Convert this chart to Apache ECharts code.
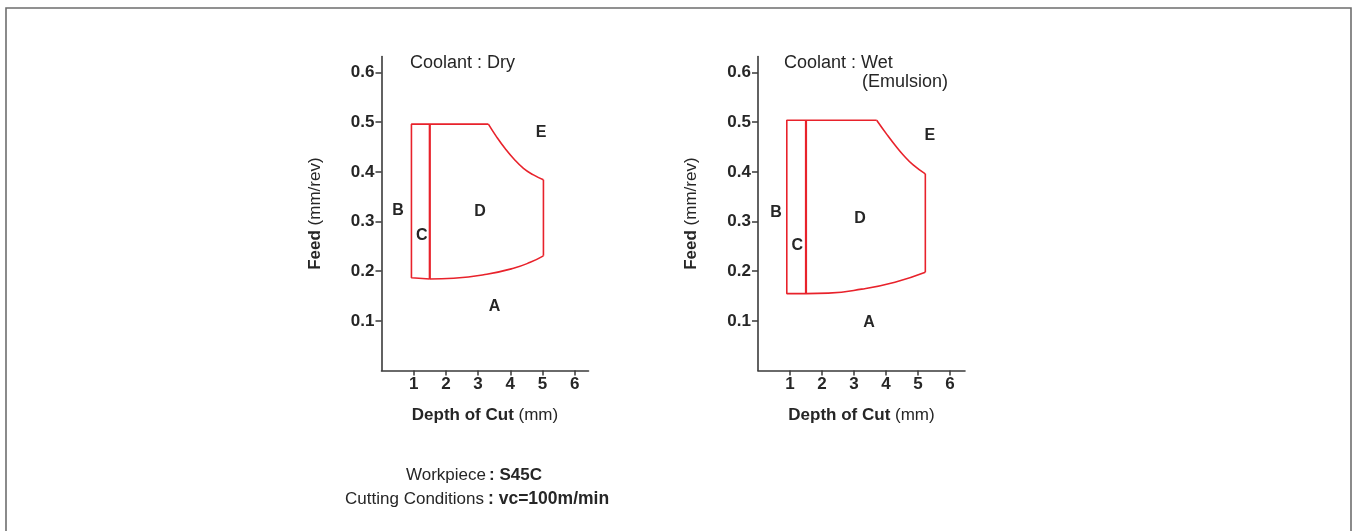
<!DOCTYPE html>
<html>
<head>
<meta charset="utf-8">
<title>Depth of Cut vs Feed</title>
<script src="https://cdn.jsdelivr.net/npm/echarts@6/dist/echarts.min.js"></script>
<style>
  html, body { margin: 0; padding: 0; background: #fff; }
  #main { width: 1355px; height: 531px; }
</style>
</head>
<body>
<div id="main"></div>
<script>
// tick labels
var xTicks = [1, 2, 3, 4, 5, 6];
var yTicks = [0.1, 0.2, 0.3, 0.4, 0.5, 0.6];

// Coolant : Dry  (depth of cut mm, feed mm/rev)
var dryEdge   = [[1.5, 0.1845], [0.93, 0.187], [0.93, 0.496], [3.32, 0.496]];
var dryCurveE = [[3.32, 0.496], [3.58, 0.470], [3.84, 0.447], [4.10, 0.427], [4.41, 0.407], [4.72, 0.394], [5.03, 0.384]];
var dryRight  = [[5.03, 0.384], [5.03, 0.231]];
var dryCurveA = [[1.5, 0.1845], [2.24, 0.186], [3.27, 0.194], [4.10, 0.206], [4.62, 0.218], [5.03, 0.231]];
var dryLineC  = [[1.5, 0.1845], [1.5, 0.496]];

// Coolant : Wet (Emulsion)
var wetEdge   = [[1.5, 0.155], [0.9, 0.155], [0.9, 0.504], [3.71, 0.504]];
var wetCurveE = [[3.71, 0.504], [4.02, 0.476], [4.28, 0.454], [4.54, 0.434], [4.85, 0.414], [5.23, 0.396]];
var wetRight  = [[5.23, 0.396], [5.23, 0.198]];
var wetCurveA = [[1.5, 0.155], [2.2, 0.156], [3.24, 0.164], [4.28, 0.178], [5.23, 0.198]];
var wetLineC  = [[1.5, 0.155], [1.5, 0.504]];

// region letters
var regionNames = ['A', 'B', 'C', 'D', 'E'];
var dryLabelPos = [[3.51, 0.129], [0.51, 0.323], [1.25, 0.272], [3.06, 0.32], [4.96, 0.479]];
var wetLabelPos = [[3.47, 0.097], [0.56, 0.319], [1.23, 0.252], [3.19, 0.305], [5.37, 0.473]];

var FONT = '"Liberation Sans", Arial, Helvetica, sans-serif';
var RED = '#e8222b';
var INK = '#262626';

var myChart = echarts.init(document.getElementById('main'));

function makeX(idx, max) {
  return {
    type: 'value', gridIndex: idx, min: 0, max: max,
    name: '{b|Depth of Cut} (mm)',
    nameLocation: 'middle', nameGap: 36,
    nameTextStyle: { fontFamily: FONT, fontSize: 17, color: INK, rich: { b: { fontFamily: FONT, fontSize: 17, fontWeight: 'bold', color: INK } } },
    splitLine: { show: false },
    axisLine: { onZero: false, lineStyle: { color: '#3a3a3a', width: 1.6 } },
    axisTick: { length: 5, customValues: xTicks, lineStyle: { color: '#3a3a3a', width: 1.5 } },
    axisLabel: { customValues: xTicks, margin: 5, fontFamily: FONT, fontSize: 17, fontWeight: 'bold', color: INK }
  };
}
function makeY(idx) {
  return {
    type: 'value', gridIndex: idx, min: 0, max: 0.632,
    name: '{b|Feed} (mm/rev)',
    nameLocation: 'middle', nameGap: 58,
    nameTextStyle: { fontFamily: FONT, fontSize: 17, color: INK, rich: { b: { fontFamily: FONT, fontSize: 17, fontWeight: 'bold', color: INK } } },
    splitLine: { show: false },
    axisLine: { onZero: false, lineStyle: { color: '#3a3a3a', width: 1.6 } },
    axisTick: { length: 6, customValues: yTicks, lineStyle: { color: '#3a3a3a', width: 1.5 } },
    axisLabel: { customValues: yTicks, margin: 7, fontFamily: FONT, fontSize: 17, fontWeight: 'bold', color: INK,
      formatter: function (v) { return v.toFixed(1); } }
  };
}
function seg(idx, data, smooth, width) {
  return {
    type: 'line', xAxisIndex: idx, yAxisIndex: idx, data: data,
    smooth: smooth ? 0.5 : false,
    showSymbol: false, symbol: 'none', silent: true,
    lineStyle: { color: RED, width: width || 1.6 }
  };
}
function letters(idx, pos) {
  return {
    type: 'scatter', xAxisIndex: idx, yAxisIndex: idx, symbolSize: 1, silent: true,
    itemStyle: { color: 'rgba(0,0,0,0)', opacity: 1 },
    data: pos.map(function (p, i) { return { value: p, name: regionNames[i] }; }),
    label: { show: true, position: 'inside', formatter: '{b}', fontFamily: FONT, fontSize: 16, fontWeight: 'bold',
      color: INK, opacity: 1, textBorderWidth: 0 }
  };
}

var option = {
  backgroundColor: '#fff',
  animation: false,
  grid: [
    { left: 381.5, top: 56.6, width: 207, height: 314 },
    { left: 758, top: 56.6, width: 207, height: 314 }
  ],
  xAxis: [makeX(0, 6.43), makeX(1, 6.47)],
  yAxis: [makeY(0), makeY(1)],
  series: [
    seg(0, dryEdge, false), seg(0, dryCurveE, true), seg(0, dryRight, false),
    seg(0, dryCurveA, true), seg(0, dryLineC, false, 2.2), letters(0, dryLabelPos),
    seg(1, wetEdge, false), seg(1, wetCurveE, true), seg(1, wetRight, false),
    seg(1, wetCurveA, true), seg(1, wetLineC, false, 2.2), letters(1, wetLabelPos)
  ],
  graphic: [
    { type: 'rect', shape: { x: 6, y: 8, width: 1345, height: 540 }, style: { fill: 'none', stroke: '#6e6e6e', lineWidth: 1.6 }, silent: true },
    { type: 'text', x: 410, y: 63, style: { text: 'Coolant : Dry', font: '18px ' + FONT, fill: INK, verticalAlign: 'middle' } },
    { type: 'text', x: 784, y: 63, style: { text: 'Coolant : Wet', font: '18px ' + FONT, fill: INK, verticalAlign: 'middle' } },
    { type: 'text', x: 862, y: 82, style: { text: '(Emulsion)', font: '18px ' + FONT, fill: INK, verticalAlign: 'middle' } },
    { type: 'text', x: 486, y: 475, style: { text: 'Workpiece', font: '17px ' + FONT, fill: INK, align: 'right', verticalAlign: 'middle' } },
    { type: 'text', x: 489, y: 475, style: { text: ': S45C', font: 'bold 17px ' + FONT, fill: INK, align: 'left', verticalAlign: 'middle' } },
    { type: 'text', x: 484, y: 499, style: { text: 'Cutting Conditions', font: '17px ' + FONT, fill: INK, align: 'right', verticalAlign: 'middle' } },
    { type: 'text', x: 488, y: 499, style: { text: ': vc=100m/min', font: 'bold 17.5px ' + FONT, fill: INK, align: 'left', verticalAlign: 'middle' } }
  ]
};

myChart.setOption(option);
</script>
</body>
</html>
